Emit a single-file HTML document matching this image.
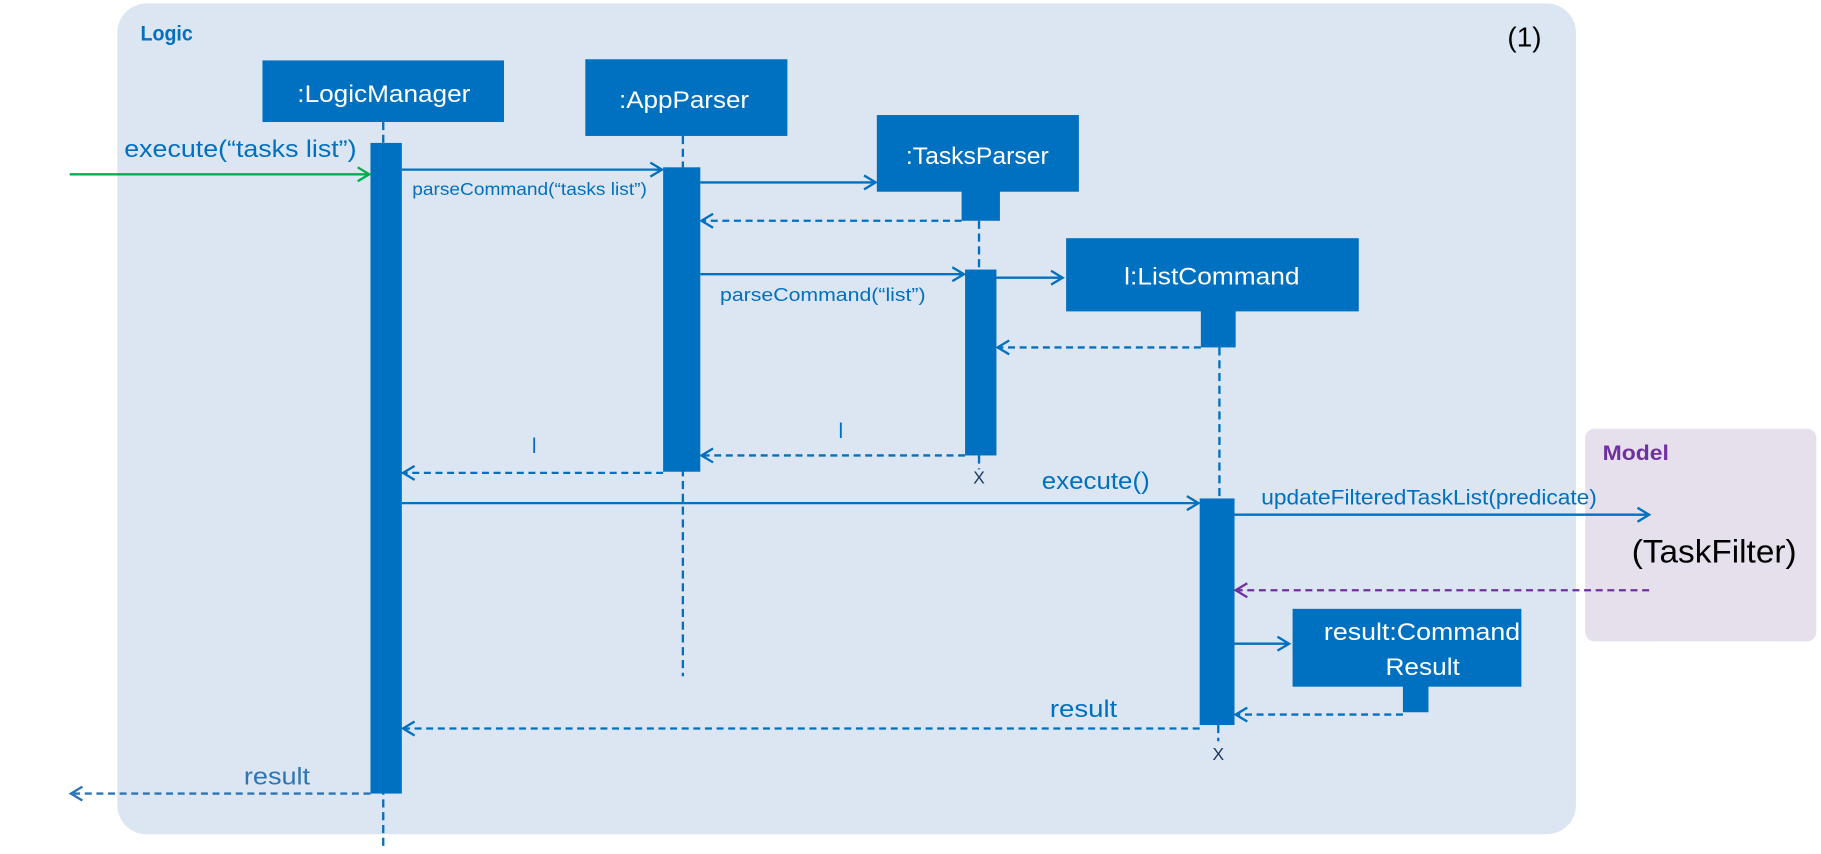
<!DOCTYPE html>
<html><head><meta charset="utf-8"><style>
html,body{margin:0;padding:0;background:#fff;}
svg{display:block;}
text{font-family:"Liberation Sans Narrow","Liberation Sans",sans-serif;}
</style></head><body>
<svg width="1821" height="854" viewBox="0 0 1568 735" preserveAspectRatio="none" xmlns="http://www.w3.org/2000/svg">
<defs>
<marker id="a" markerWidth="14" markerHeight="14" refX="12" refY="7" orient="auto" markerUnits="userSpaceOnUse"><path d="M2,1 L12,7 L2,13" fill="none" stroke="#0070c0" stroke-width="2"/></marker>
<marker id="g" markerWidth="14" markerHeight="14" refX="12" refY="7" orient="auto" markerUnits="userSpaceOnUse"><path d="M2,1 L12,7 L2,13" fill="none" stroke="#00b050" stroke-width="2"/></marker>
<marker id="p" markerWidth="14" markerHeight="14" refX="12" refY="7" orient="auto" markerUnits="userSpaceOnUse"><path d="M2,1 L12,7 L2,13" fill="none" stroke="#7030a0" stroke-width="2"/></marker>
<marker id="l" markerWidth="14" markerHeight="14" refX="12" refY="7" orient="auto" markerUnits="userSpaceOnUse"><path d="M2,1 L12,7 L2,13" fill="none" stroke="#2e75b6" stroke-width="2"/></marker>
</defs>
<rect x="101" y="3" width="1256" height="715" rx="25" fill="#dce6f2"/>
<rect x="1365" y="369" width="199" height="183" rx="8" fill="#e5e0ec"/>
<text x="121" y="35" font-size="18" font-weight="bold" fill="#0070c0" textLength="45" lengthAdjust="spacingAndGlyphs">Logic</text>
<text x="1298" y="40" font-size="24" fill="#000" font-family="Liberation Sans">(1)</text>
<text x="1380" y="396" font-size="18" font-weight="bold" fill="#7030a0" textLength="57" lengthAdjust="spacingAndGlyphs">Model</text>
<text x="1405" y="484" font-size="28" fill="#000" textLength="142" lengthAdjust="spacingAndGlyphs">(TaskFilter)</text>

<g stroke="#0070c0" stroke-width="2" stroke-dasharray="7,4" fill="none">
<line x1="330" y1="105" x2="330" y2="731"/>
<line x1="588" y1="117" x2="588" y2="582"/>
<line x1="843" y1="190" x2="843" y2="232"/>
<line x1="843" y1="392" x2="843" y2="404"/>
<line x1="1050" y1="299" x2="1050" y2="430"/>
<line x1="1049" y1="624" x2="1049" y2="638"/>
</g>

<g fill="#0070c0">
<rect x="226" y="52" width="208" height="53"/>
<rect x="504" y="51" width="174" height="66"/>
<rect x="755" y="99" width="174" height="66"/><rect x="828" y="164" width="33" height="26"/>
<rect x="918" y="205" width="252" height="63"/><rect x="1034" y="267" width="30" height="32"/>
<rect x="1113" y="524" width="197" height="67"/><rect x="1208" y="590" width="22" height="23"/>
<rect x="319" y="123" width="27" height="560"/>
<rect x="571" y="144" width="32" height="262"/>
<rect x="831" y="232" width="27" height="160"/>
<rect x="1033" y="429" width="30" height="195"/>
</g>
<g fill="#fff" font-size="21">
<text x="256" y="88" textLength="149" lengthAdjust="spacingAndGlyphs">:LogicManager</text>
<text x="533" y="93" textLength="112" lengthAdjust="spacingAndGlyphs">:AppParser</text>
<text x="780" y="141" textLength="123" lengthAdjust="spacingAndGlyphs">:TasksParser</text>
<text x="968" y="245" textLength="151" lengthAdjust="spacingAndGlyphs">l:ListCommand</text>
<text x="1140" y="551" textLength="169" lengthAdjust="spacingAndGlyphs">result:Command</text>
<text x="1193" y="581" textLength="64" lengthAdjust="spacingAndGlyphs">Result</text>
</g>
<text x="843" y="416" font-size="15" fill="#1f3864" text-anchor="middle">X</text>
<text x="1049" y="654" font-size="15" fill="#1f3864" text-anchor="middle">X</text>

<g stroke="#0070c0" stroke-width="2" fill="none" marker-end="url(#a)">
<line x1="346" y1="146" x2="570" y2="146"/>
<line x1="603" y1="157" x2="754" y2="157"/>
<line x1="603" y1="236" x2="830" y2="236"/>
<line x1="858" y1="239" x2="915" y2="239"/>
<line x1="346" y1="433" x2="1032" y2="433"/>
<line x1="1063" y1="443" x2="1420" y2="443"/>
<line x1="1063" y1="554" x2="1110" y2="554"/>
</g>
<g stroke="#0070c0" stroke-width="2" fill="none" stroke-dasharray="6,4" marker-end="url(#a)">
<line x1="828" y1="190" x2="604" y2="190"/>
<line x1="1034" y1="299" x2="859" y2="299"/>
<line x1="831" y1="392" x2="604" y2="392"/>
<line x1="571" y1="407" x2="347" y2="407"/>
<line x1="1208" y1="615" x2="1064" y2="615"/>
<line x1="1033" y1="627" x2="347" y2="627"/>
</g>
<line x1="319" y1="683" x2="61" y2="683" stroke="#2e75b6" stroke-width="2" stroke-dasharray="6,4" marker-end="url(#l)"/>
<line x1="60" y1="150" x2="318" y2="150" stroke="#00b050" stroke-width="2" marker-end="url(#g)"/>
<line x1="1420" y1="508" x2="1064" y2="508" stroke="#7030a0" stroke-width="2" stroke-dasharray="6,4" marker-end="url(#p)"/>

<g fill="#0070c0" lengthAdjust="spacingAndGlyphs">
<text x="107" y="135" font-size="21" textLength="200" lengthAdjust="spacingAndGlyphs">execute(“tasks list”)</text>
<text x="355" y="168" font-size="15" textLength="202" lengthAdjust="spacingAndGlyphs">parseCommand(“tasks list”)</text>
<text x="620" y="259" font-size="16" textLength="177" lengthAdjust="spacingAndGlyphs">parseCommand(“list”)</text>
<text x="722" y="377" font-size="18">l</text>
<text x="458" y="390" font-size="18">l</text>
<text x="897" y="421" font-size="21" textLength="93" lengthAdjust="spacingAndGlyphs">execute()</text>
<text x="1086" y="434" font-size="18" textLength="289" lengthAdjust="spacingAndGlyphs">updateFilteredTaskList(predicate)</text>
<text x="904" y="617" font-size="21" textLength="58" lengthAdjust="spacingAndGlyphs">result</text>
<text x="210" y="675" font-size="21" fill="#2e75b6" textLength="57" lengthAdjust="spacingAndGlyphs">result</text>
</g>
</svg>
</body></html>
